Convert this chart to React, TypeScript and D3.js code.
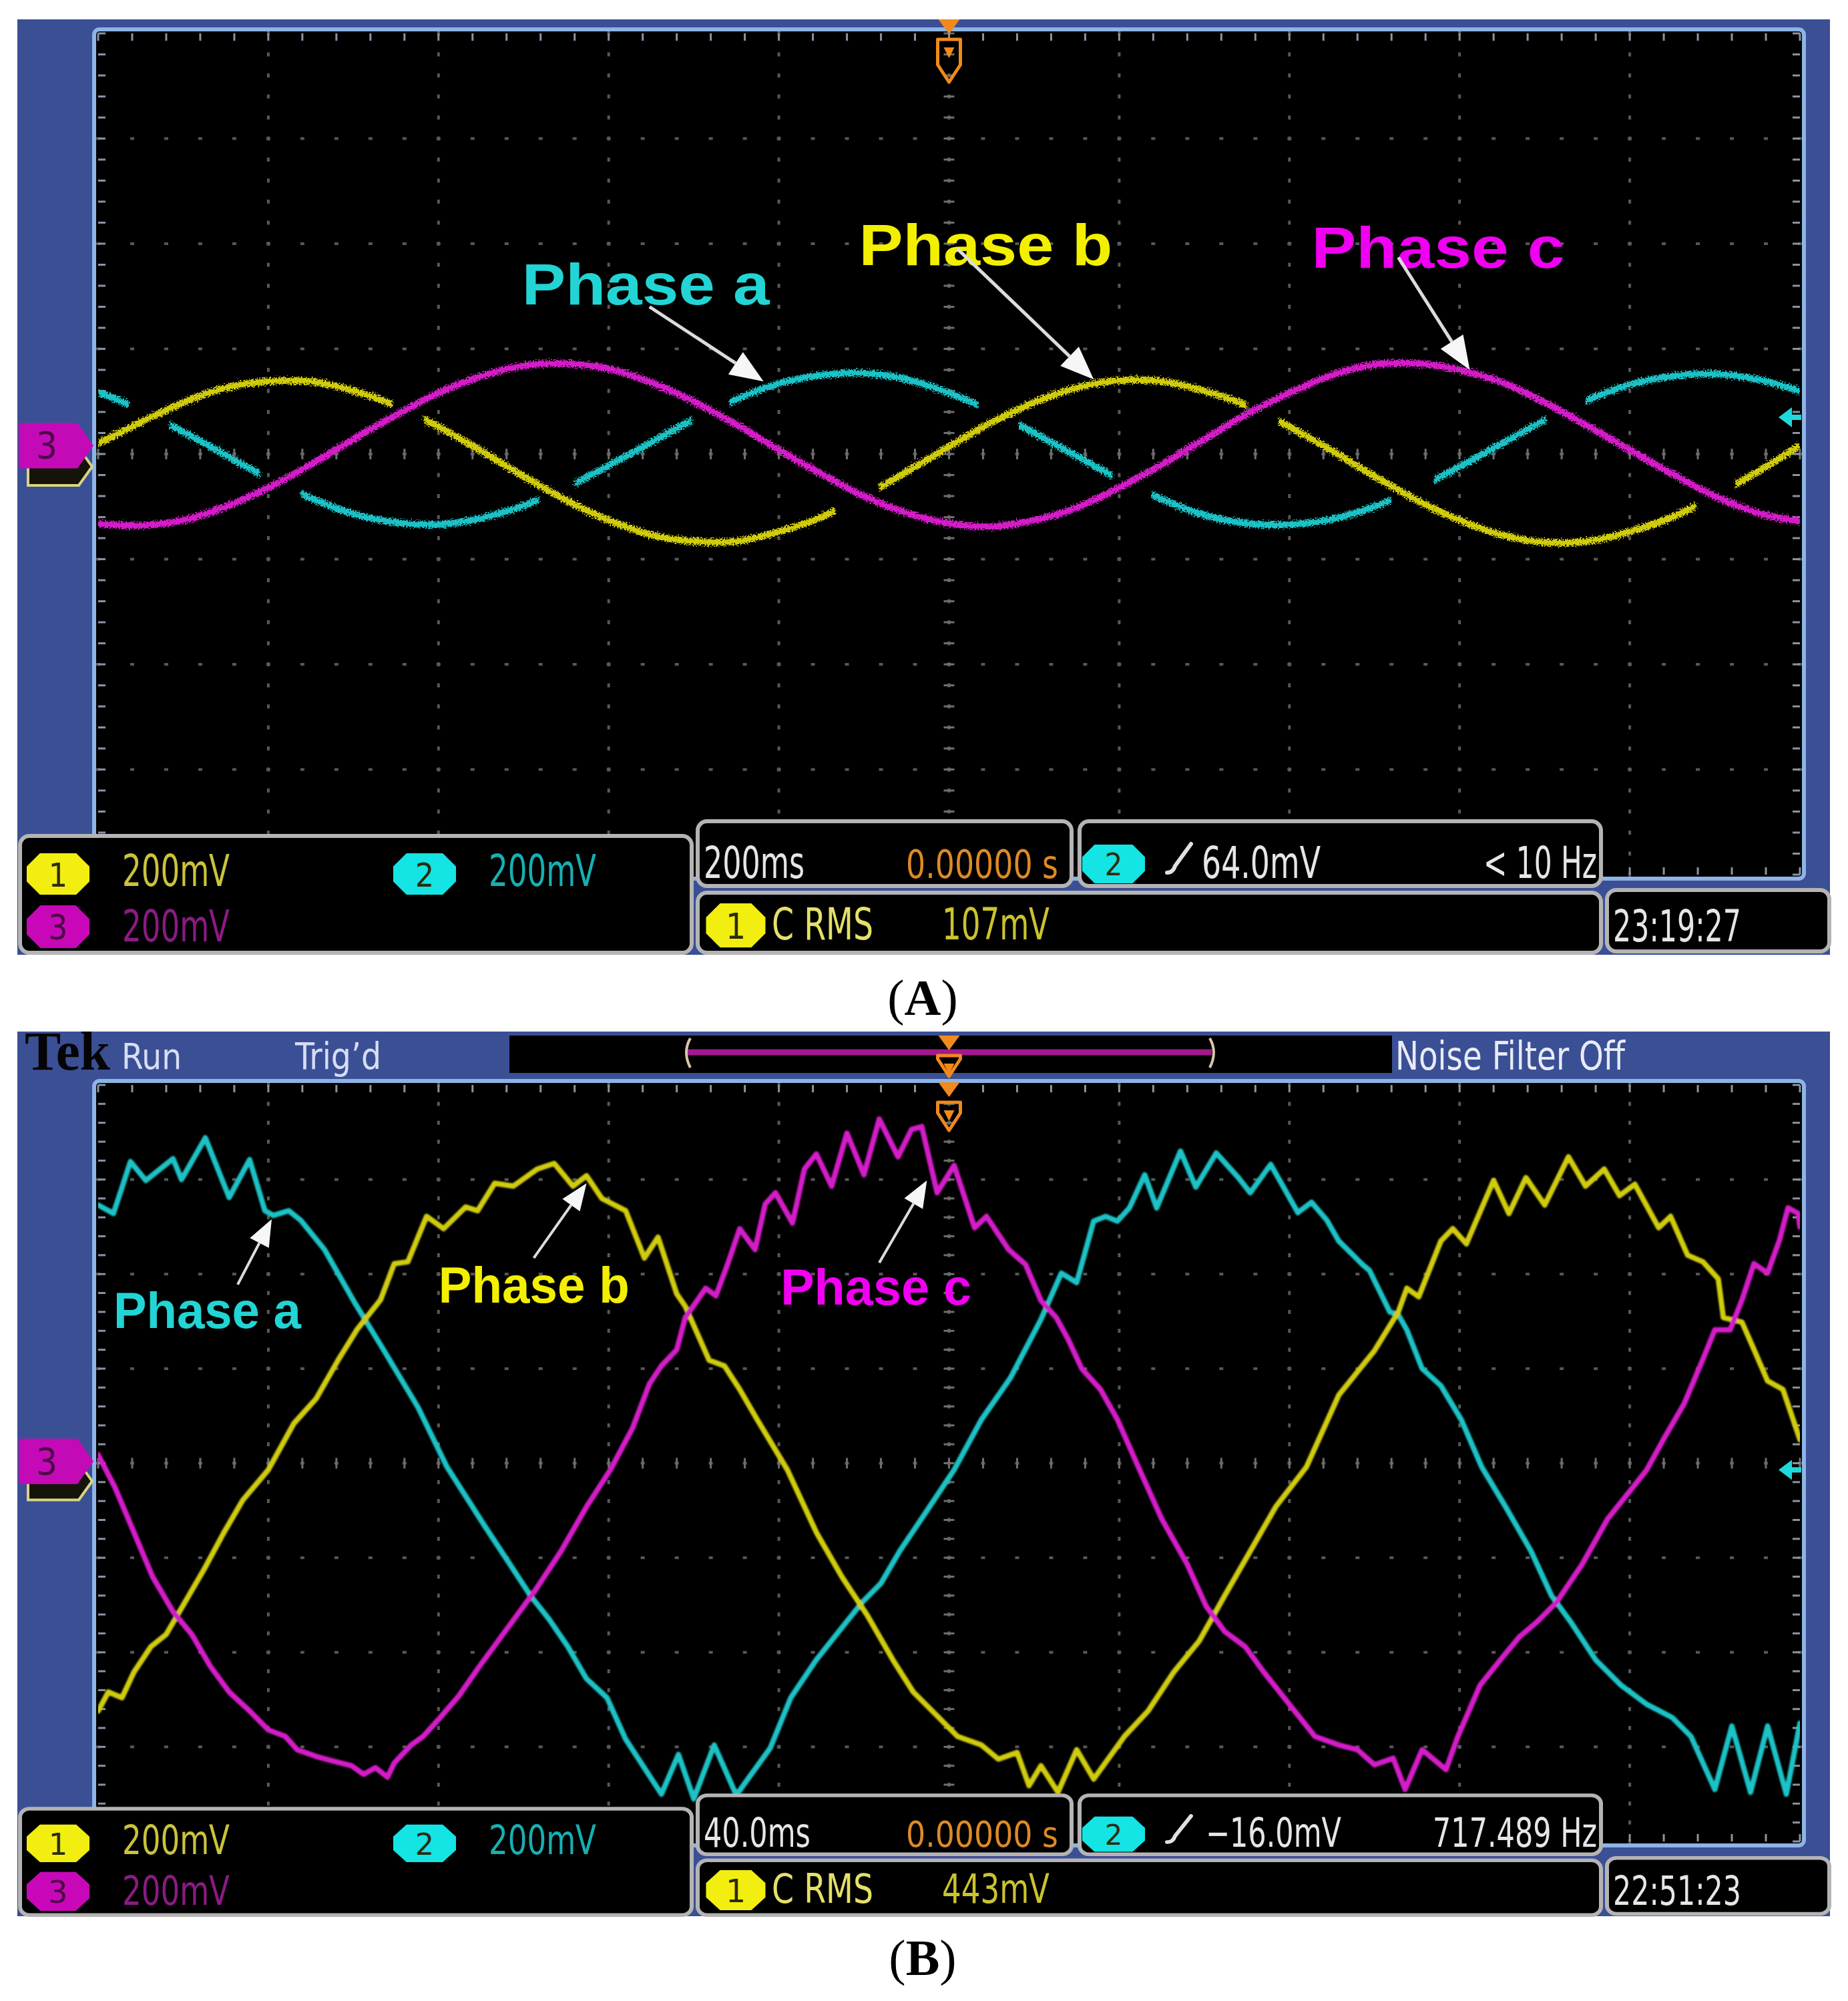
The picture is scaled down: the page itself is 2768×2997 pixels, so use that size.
import React from "react";
import * as d3 from "d3";

// ---------- data (screen divisions: x 0..10, y -4..4) ----------

// (A) 200 ms/div, one reading every 0.25 div
const stepA = 0.25;
const phaseAa = [0.59, 0.42, 0.21, -0.01, -0.23, -0.42, -0.57, -0.65, -0.67, -0.61, -0.49, -0.32, -0.11, 0.11, 0.33, 0.52, 0.67, 0.75, 0.77, 0.71,
  0.58, 0.41, 0.2, -0.02, -0.24, -0.43, -0.58, -0.66, -0.67, -0.62, -0.5, -0.33, -0.12, 0.1, 0.32, 0.51, 0.66, 0.74, 0.76, 0.71, 0.6];
const phaseAb = [0.1, 0.3, 0.49, 0.63, 0.69, 0.69, 0.6, 0.46, 0.26, 0.03, -0.21, -0.44, -0.63, -0.77, -0.83, -0.83, -0.74, -0.6, -0.4, -0.17,
  0.07, 0.3, 0.49, 0.63, 0.7, 0.69, 0.6, 0.46, 0.26, 0.03, -0.21, -0.44, -0.63, -0.77, -0.84, -0.83, -0.74, -0.6, -0.4, -0.17, 0.08];
const phaseAc = [-0.66, -0.68, -0.63, -0.5, -0.32, -0.1, 0.14, 0.37, 0.58, 0.74, 0.84, 0.86, 0.81, 0.68, 0.5, 0.28, 0.04, -0.19, -0.4, -0.56,
  -0.66, -0.69, -0.63, -0.51, -0.32, -0.1, 0.14, 0.38, 0.58, 0.75, 0.85, 0.86, 0.8, 0.68, 0.49, 0.27, 0.04, -0.19, -0.4, -0.56, -0.64];
// the scope left gaps in ch1 / ch2: visible pieces (div)
const piecesAa = [[0, 0.18], [0.42, 0.95], [1.19, 2.59], [2.8, 3.49], [3.71, 5.17], [5.41, 5.96], [6.19, 7.6], [7.85, 8.51], [8.74, 10]];
const piecesAb = [[0, 1.73], [1.91, 4.33], [4.59, 6.75], [6.94, 9.39], [9.62, 10]];

// (B) 40 ms/div, [time div, volt div]
const phaseBa = [[0, 2.73], [0.09, 2.64], [0.19, 3.19], [0.28, 2.99], [0.44, 3.22], [0.49, 3.0], [0.63, 3.44], [0.77, 2.81], [0.89, 3.21], [0.98, 2.67],
  [1.03, 2.62], [1.12, 2.67], [1.19, 2.57], [1.33, 2.26], [1.51, 1.69], [1.66, 1.25], [1.88, 0.59], [2.05, -0.04], [2.27, -0.66], [2.42, -1.07],
  [2.54, -1.4], [2.65, -1.65], [2.76, -1.94], [2.87, -2.28], [2.99, -2.48], [3.1, -2.92], [3.31, -3.5], [3.41, -3.08], [3.5, -3.55], [3.62, -2.98],
  [3.75, -3.51], [3.95, -3.01], [4.07, -2.48], [4.22, -2.08], [4.37, -1.74], [4.49, -1.47], [4.6, -1.27], [4.71, -0.93], [4.86, -0.53], [5.03, -0.07],
  [5.19, 0.46], [5.36, 0.9], [5.54, 1.52], [5.66, 2.01], [5.75, 1.91], [5.85, 2.56], [5.92, 2.61], [5.99, 2.56], [6.06, 2.7], [6.15, 3.05],
  [6.22, 2.7], [6.36, 3.3], [6.45, 2.92], [6.57, 3.28], [6.7, 3.02], [6.77, 2.86], [6.89, 3.16], [7.05, 2.65], [7.13, 2.76], [7.22, 2.57],
  [7.29, 2.35], [7.43, 2.1], [7.47, 2.04], [7.59, 1.6], [7.64, 1.57], [7.69, 1.41], [7.78, 1.0], [7.89, 0.82], [8.01, 0.46], [8.13, -0.04],
  [8.27, -0.46], [8.42, -0.93], [8.54, -1.4], [8.65, -1.67], [8.8, -2.08], [8.95, -2.35], [9.1, -2.55], [9.25, -2.69], [9.36, -2.89], [9.5, -3.45],
  [9.6, -2.78], [9.71, -3.48], [9.81, -2.78], [9.92, -3.5], [10, -2.75]];
const phaseBb = [[0, -2.62], [0.06, -2.42], [0.14, -2.48], [0.21, -2.21], [0.31, -1.94], [0.4, -1.81], [0.51, -1.47], [0.62, -1.13], [0.74, -0.73], [0.85, -0.39],
  [1.0, -0.07], [1.15, 0.42], [1.28, 0.68], [1.41, 1.09], [1.52, 1.41], [1.66, 1.73], [1.74, 2.11], [1.82, 2.13], [1.93, 2.61], [2.03, 2.48],
  [2.16, 2.71], [2.23, 2.67], [2.33, 2.96], [2.44, 2.93], [2.58, 3.11], [2.68, 3.17], [2.79, 2.93], [2.87, 3.04], [2.96, 2.8], [3.1, 2.67],
  [3.21, 2.17], [3.29, 2.39], [3.4, 1.79], [3.45, 1.66], [3.59, 1.09], [3.68, 1.03], [3.77, 0.78], [3.87, 0.47], [4.05, -0.07], [4.22, -0.73],
  [4.37, -1.2], [4.52, -1.61], [4.67, -2.08], [4.79, -2.42], [4.94, -2.69], [5.05, -2.89], [5.19, -2.98], [5.29, -3.13], [5.4, -3.06], [5.47, -3.41],
  [5.54, -3.2], [5.64, -3.48], [5.75, -3.03], [5.85, -3.34], [6.03, -2.89], [6.17, -2.62], [6.32, -2.21], [6.47, -1.88], [6.62, -1.4], [6.77, -0.93],
  [6.92, -0.46], [7.1, -0.04], [7.29, 0.72], [7.5, 1.19], [7.64, 1.6], [7.69, 1.85], [7.76, 1.76], [7.89, 2.35], [7.96, 2.48], [8.04, 2.32],
  [8.2, 2.99], [8.29, 2.64], [8.39, 3.02], [8.5, 2.73], [8.64, 3.24], [8.74, 2.93], [8.85, 3.11], [8.94, 2.83], [9.03, 2.95], [9.17, 2.49],
  [9.24, 2.61], [9.34, 2.2], [9.43, 2.13], [9.52, 1.95], [9.55, 1.54], [9.66, 1.49], [9.74, 1.16], [9.81, 0.87], [9.9, 0.78], [10, 0.25]];
const phaseBc = [[0, 0.09], [0.1, -0.26], [0.21, -0.73], [0.32, -1.2], [0.44, -1.57], [0.55, -1.81], [0.66, -2.15], [0.77, -2.42], [0.89, -2.62], [1.0, -2.82],
  [1.1, -2.89], [1.17, -3.03], [1.28, -3.1], [1.38, -3.15], [1.49, -3.2], [1.56, -3.29], [1.63, -3.22], [1.7, -3.32], [1.74, -3.17], [1.84, -2.98],
  [1.91, -2.89], [2.01, -2.69], [2.12, -2.46], [2.24, -2.15], [2.35, -1.88], [2.46, -1.61], [2.57, -1.34], [2.72, -0.93], [2.87, -0.46], [3.01, -0.07],
  [3.14, 0.37], [3.24, 0.84], [3.31, 1.03], [3.4, 1.2], [3.45, 1.54], [3.52, 1.72], [3.57, 1.85], [3.63, 1.77], [3.7, 2.11], [3.77, 2.48],
  [3.86, 2.26], [3.92, 2.74], [3.98, 2.86], [4.08, 2.54], [4.15, 3.11], [4.22, 3.27], [4.31, 2.93], [4.4, 3.49], [4.5, 3.05], [4.59, 3.64],
  [4.7, 3.24], [4.78, 3.53], [4.84, 3.56], [4.93, 2.86], [5.03, 3.15], [5.15, 2.49], [5.22, 2.61], [5.35, 2.26], [5.45, 2.1], [5.54, 1.72],
  [5.63, 1.54], [5.7, 1.31], [5.78, 1.0], [5.89, 0.78], [5.99, 0.46], [6.12, -0.07], [6.25, -0.59], [6.4, -1.07], [6.51, -1.51], [6.62, -1.78],
  [6.74, -1.94], [6.85, -2.21], [7.0, -2.55], [7.15, -2.89], [7.29, -2.98], [7.4, -3.03], [7.5, -3.19], [7.61, -3.12], [7.68, -3.45], [7.78, -3.03],
  [7.92, -3.24], [7.99, -2.89], [8.12, -2.35], [8.24, -2.08], [8.35, -1.84], [8.46, -1.67], [8.57, -1.47], [8.72, -1.07], [8.87, -0.59], [9.1, -0.07],
  [9.21, 0.29], [9.32, 0.63], [9.43, 1.1], [9.5, 1.41], [9.59, 1.41], [9.66, 1.73], [9.73, 2.11], [9.81, 2.01], [9.88, 2.36], [9.93, 2.7],
  [9.99, 2.64], [10, 2.5]];

// channel ground markers [ch1, ch2, ch3] (div)
const groundA = [-0.12, 0.35, 0.08];
const groundB = [-0.19, -0.07, 0.02];

// annotation anchors (div): label [x, baseline], arrow [x1, y1, x2, y2]
const phaseNames = ["Phase a", "Phase b", "Phase c"];
const labelsA = [[2.49, 1.42], [4.47, 1.8], [7.13, 1.77]];
const arrowsA = [[3.24, 1.4, 3.91, 0.69], [5.05, 1.95, 5.85, 0.71], [7.64, 1.87, 8.06, 0.8]];
const labelsB = [[0.09, 1.43], [2.0, 1.7], [4.01, 1.68]];
const arrowsB = [[0.82, 1.89, 1.02, 2.58], [2.56, 2.17, 2.87, 2.96], [4.59, 2.12, 4.87, 2.99]];

// readouts
const chanScale = ["200mV", "200mV", "200mV"];
const timebase = ["200ms", "40.0ms"];
const trigPos = ["0.00000 s", "0.00000 s"];
const trigLevel = ["64.0mV", "\u221216.0mV"];
const trigFreq = ["< 10 Hz", "717.489 Hz"];
const rmsValue = ["107mV", "443mV"];
const clock = ["23:19:27", "22:51:23"];
const captions = ["A", "B"];

// ---------- style ----------
const W = 2768;
const H = 2997;
const X0 = 147;
const X1 = 2696;
const BLUE = "#3b4f95";
const RIM = "#8db4e4";
const TRACE = ["#d0cc0c", "#1cc2c5", "#d41fc8"];
const BADGE = ["#f2ee10", "#14e4e4", "#c808b8"];
const LABEL = ["#22d4d4", "#f2f000", "#f000f0"];
const NARROW = '"Liberation Sans Narrow","DejaVu Sans Condensed","Arial Narrow",sans-serif';
const SANS = '"Liberation Sans",Arial,sans-serif';
const SERIF = '"Liberation Serif","Times New Roman",serif';

function Txt({ x, y, w, fill = "#e6e6e6", size = 66, anchor = "start", font = NARROW, weight = "normal", children }: any) {
  return (
    <text x={x} y={y} fill={fill} fontSize={size} fontFamily={font} fontWeight={weight}
      textAnchor={anchor} textLength={w} lengthAdjust="spacingAndGlyphs">{children}</text>
  );
}

function octagon(cx: number, cy: number, w: number, h: number) {
  const c = h * 0.32;
  const l = cx - w / 2, r = cx + w / 2, t = cy - h / 2, b = cy + h / 2;
  return `M${l + c},${t}L${r - c},${t}L${r},${t + c}L${r},${b - c}L${r - c},${b}L${l + c},${b}L${l},${b - c}L${l},${t + c}Z`;
}

function Badge({ cx, cy, w, h, ch }: any) {
  return (
    <g>
      <path d={octagon(cx, cy, w, h)} fill={BADGE[ch]} />
      <text x={cx} y={cy + h * 0.3} textAnchor="middle" fontFamily={NARROW} fontSize={h * 0.8}
        fill={ch === 2 ? "#4a0846" : "#2b2b10"}>{ch + 1}</text>
    </g>
  );
}

function Box({ x, y, w, h }: any) {
  return <rect x={x} y={y} width={w} height={h} rx={14} fill="#000" stroke="#b4b4b4" strokeWidth={6} />;
}

function Status({ k, top, sy }: any) {
  return (
    <g transform={`translate(0,${top}) scale(1,${sy})`}>
      <Box x={30} y={0} w={1006} h={175} />
      <Box x={1045} y={-22} w={560} h={97} />
      <Box x={1617} y={-22} w={781} h={97} />
      <Box x={1045} y={85} w={1353} h={90} />
      <Box x={2407} y={81} w={333} h={92} />

      <Badge cx={87} cy={57} w={94} h={62} ch={0} />
      <Txt x={183} y={75} w={161} fill="#cbc33a">{chanScale[0]}</Txt>
      <Badge cx={636} cy={57} w={94} h={62} ch={1} />
      <Txt x={732} y={75} w={161} fill="#16b0b2">{chanScale[1]}</Txt>
      <Badge cx={87} cy={136} w={94} h={64} ch={2} />
      <Txt x={183} y={158} w={161} fill="#8c1a84">{chanScale[2]}</Txt>

      <Txt x={1054} y={63} w={k ? 160 : 151}>{timebase[k]}</Txt>
      <Txt x={1357} y={63} w={228} fill="#de8a26" size={58}>{trigPos[k]}</Txt>
      <Badge cx={1668} cy={42} w={94} h={58} ch={1} />
      <path d="M1748,55 q9,0 12,-10 L1784,12" fill="none" stroke="#e0e0e0" strokeWidth={6} strokeLinecap="round" />
      <Txt x={k ? 1806 : 1800} y={63} w={k ? 203 : 178}>{trigLevel[k]}</Txt>
      <Txt x={2392} y={63} w={k ? 246 : 170} anchor="end">{trigFreq[k]}</Txt>

      <Badge cx={1102} cy={134} w={89} h={66} ch={0} />
      <Txt x={1156} y={155} w={152} fill="#e4e06a">C RMS</Txt>
      <Txt x={1411} y={155} w={161} fill="#cbc32e">{rmsValue[k]}</Txt>
      <Txt x={2416} y={158} w={192}>{clock[k]}</Txt>
    </g>
  );
}

function TrigMark({ cx, y0, h }: any) {
  const c = "#f08a1c";
  return (
    <g>
      <polygon points={`${cx - 16},${y0} ${cx + 16},${y0} ${cx},${y0 + 22}`} fill={c} />
      <path d={`M${cx - 17},${y0 + 30}L${cx + 17},${y0 + 30}L${cx + 17},${y0 + h - 26}L${cx},${y0 + h}L${cx - 17},${y0 + h - 26}Z`}
        fill="none" stroke={c} strokeWidth={5} strokeLinejoin="round" />
      <path d={`M${cx - 8},${y0 + 42}L${cx + 8},${y0 + 42}L${cx},${y0 + 58}Z`} fill={c} />
    </g>
  );
}

function Arrow({ a, x, y, len, half, sw }: any) {
  const x1 = x(a[0]), y1 = y(a[1]), x2 = x(a[2]), y2 = y(a[3]);
  const L = Math.hypot(x2 - x1, y2 - y1);
  const ux = (x2 - x1) / L, uy = (y2 - y1) / L;
  const bx = x2 - ux * len, by = y2 - uy * len;
  return (
    <g>
      <line x1={x1} y1={y1} x2={bx} y2={by} stroke="#dcdcdc" strokeWidth={sw} />
      <polygon points={`${x2},${y2} ${bx - uy * half},${by + ux * half} ${bx + uy * half},${by - ux * half}`} fill="#f6f6f6" />
    </g>
  );
}

function Graticule({ x, y }: any) {
  const mx = d3.range(0, 51).map((i) => i / 5);
  const my = d3.range(0, 41).map((i) => -4 + i / 5);
  const els: any[] = [];
  d3.range(1, 10).forEach((i) => {
    my.forEach((v, j) => els.push(<rect key={`v${i}-${j}`} x={x(i) - 2} y={y(v) - 3} width={4} height={6} fill="#585858" />));
  });
  d3.range(-3, 4).forEach((v) => {
    mx.forEach((u, j) => els.push(<rect key={`h${v}-${j}`} x={x(u) - 3} y={y(v) - 2} width={6} height={4} fill="#585858" />));
  });
  my.forEach((v, j) => els.push(<line key={`cx${j}`} x1={x(5) - 8} x2={x(5) + 8} y1={y(v)} y2={y(v)} stroke="#6e6e6e" strokeWidth={3} />));
  mx.forEach((u, j) => els.push(<line key={`cy${j}`} x1={x(u)} x2={x(u)} y1={y(0) - 8} y2={y(0) + 8} stroke="#6e6e6e" strokeWidth={3} />));
  mx.forEach((u, j) => {
    els.push(<line key={`et${j}`} x1={x(u)} x2={x(u)} y1={y(4)} y2={y(4) + 11} stroke="#8a93a6" strokeWidth={3} />);
    els.push(<line key={`eb${j}`} x1={x(u)} x2={x(u)} y1={y(-4)} y2={y(-4) - 11} stroke="#8a93a6" strokeWidth={3} />);
  });
  my.forEach((v, j) => {
    els.push(<line key={`el${j}`} x1={x(0)} x2={x(0) + 11} y1={y(v)} y2={y(v)} stroke="#8a93a6" strokeWidth={3} />);
    els.push(<line key={`er${j}`} x1={x(10)} x2={x(10) - 11} y1={y(v)} y2={y(v)} stroke="#8a93a6" strokeWidth={3} />);
  });
  return <g>{els}</g>;
}

function Panel(p: any) {
  const { k, top, bottom, gridTop, gridBottom, statusTop, sy, header, traces, ground, labels, arrows, fuzzy, captionY, width, labelSize, labelW } = p;
  const id = `p${k}`;
  const x = d3.scaleLinear().domain([0, 10]).range([X0, X1]);
  const y = d3.scaleLinear().domain([-4, 4]).range([gridBottom, gridTop]);
  const line = d3.line<any>().x((d) => x(d[0])).y((d) => y(d[1])).curve(fuzzy ? d3.curveCatmullRom : d3.curveLinear);

  const g3 = y(ground[2]);
  const g1 = y(ground[0]);
  const g2 = y(ground[1]);

  return (
    <g>
      <defs>
        <clipPath id={`${id}-grid`}>
          <rect x={X0} y={gridTop} width={X1 - X0} height={gridBottom - gridTop} />
        </clipPath>
        {traces.map((t: any, j: number) =>
          (t.pieces || []).map((s: number[], m: number) => (
            <clipPath key={`${j}-${m}`} id={`${id}-c${j}-${m}`}>
              <rect x={x(s[0])} y={gridTop} width={x(s[1]) - x(s[0])} height={gridBottom - gridTop} />
            </clipPath>
          ))
        )}
      </defs>

      <rect x={26} y={top} width={2715} height={bottom - top} fill={BLUE} />
      <rect x={X0 - 6} y={gridTop - 6} width={X1 - X0 + 12} height={gridBottom - gridTop + 12} rx={8} fill="#000" stroke={RIM} strokeWidth={6} />

      {header && (
        <g>
          <Txt x={37} y={top + 57} w={128} fill="#050505" size={82} font={SERIF} weight="bold">Tek</Txt>
          <Txt x={182} y={top + 56} w={90} fill="#d6ddf5" size={54}>Run</Txt>
          <Txt x={442} y={top + 56} w={129} fill="#d6ddf5" size={56}>{"Trig\u2019d"}</Txt>
          <rect x={763} y={top + 6} width={1322} height={56} fill="#000" />
          <line x1={1030} x2={1815} y1={top + 31} y2={top + 31} stroke="#a2188e" strokeWidth={9} />
          <path d={`M1034,${top + 10} q-12,21 0,44`} fill="none" stroke="#d8c6ae" strokeWidth={4} />
          <path d={`M1812,${top + 10} q12,21 0,44`} fill="none" stroke="#d8c6ae" strokeWidth={4} />
          <Txt x={2090} y={top + 57} w={344} fill="#e8ebf7" size={58}>Noise Filter Off</Txt>
        </g>
      )}

      <Graticule x={x} y={y} />

      <g clipPath={`url(#${id}-grid)`}>
        <g filter={fuzzy ? "url(#fuzz)" : "url(#soft)"}>
          {traces.map((t: any, j: number) =>
            t.pieces ? (
              t.pieces.map((s: number[], m: number) => (
                <path key={`${j}-${m}`} d={line(t.values) || ""} clipPath={`url(#${id}-c${j}-${m})`} fill="none"
                  stroke={TRACE[t.ch]} strokeWidth={width} strokeLinejoin="round" strokeLinecap="round" />
              ))
            ) : (
              <path key={j} d={line(t.values) || ""} fill="none" stroke={TRACE[t.ch]} strokeWidth={width}
                strokeLinejoin="round" strokeLinecap="round" />
            )
          )}
        </g>
      </g>

      {labels.map((l: number[], j: number) => (
        <Txt key={`l${j}`} x={x(l[0])} y={y(l[1])} w={labelW[j]} fill={LABEL[j]} size={labelSize} font={SANS} weight="bold">
          {phaseNames[j]}
        </Txt>
      ))}
      {arrows.map((a: number[], j: number) => (
        <Arrow key={`a${j}`} a={a} x={x} y={y} len={fuzzy ? 50 : 40} half={fuzzy ? 20 : 16} sw={fuzzy ? 5 : 4} />
      ))}

      {/* channel ground markers */}
      <path d={`M42,${g1 - 28}L118,${g1 - 28}L138,${g1}L118,${g1 + 28}L42,${g1 + 28}Z`} fill="#14140a" stroke="#d9d480" strokeWidth={4} />
      <path d={`M28,${g3 - 34}L116,${g3 - 34}L140,${g3}L116,${g3 + 34}L28,${g3 + 34}Z`} fill="#c40ab6" />
      <text x={70} y={g3 + 19} textAnchor="middle" fontFamily={NARROW} fontSize={56} fill="#4c0848">3</text>
      <path d={`M2664,${g2}L2684,${g2 - 15}L2684,${g2 - 4}L2698,${g2 - 4}L2698,${g2 + 4}L2684,${g2 + 4}L2684,${g2 + 15}Z`} fill="#20d8dc" />

      {header ? (
        <g>
          <TrigMark cx={x(5)} y0={top + 6} h={61} />
          <TrigMark cx={x(5)} y0={gridTop - 4} h={72} />
        </g>
      ) : (
        <TrigMark cx={x(5)} y0={top} h={94} />
      )}

      <Status k={k} top={statusTop} sy={sy} />

      <text x={1382} y={captionY} textAnchor="middle" fontFamily={SERIF} fontSize={76} fill="#000">
        (<tspan fontWeight="bold">{captions[k]}</tspan>)
      </text>
    </g>
  );
}

export default function App() {
  const tracesA = [
    { ch: 0, values: phaseAb.map((v, i) => [i * stepA, v]), pieces: piecesAb },
    { ch: 1, values: phaseAa.map((v, i) => [i * stepA, v]), pieces: piecesAa },
    { ch: 2, values: phaseAc.map((v, i) => [i * stepA, v]) },
  ];
  const tracesB = [
    { ch: 1, values: phaseBa },
    { ch: 0, values: phaseBb },
    { ch: 2, values: phaseBc },
  ];
  return (
    <svg width={W} height={H} viewBox={`0 0 ${W} ${H}`} style={{ position: "absolute", left: 0, top: 0, background: "#fff" }}>
      <defs>
        <filter id="fuzz" x="-2%" y="-10%" width="104%" height="120%">
          <feTurbulence type="fractalNoise" baseFrequency="0.45" numOctaves={2} seed={4} result="n" />
          <feDisplacementMap in="SourceGraphic" in2="n" scale={13} xChannelSelector="R" yChannelSelector="G" />
        </filter>
        <filter id="soft" x="-2%" y="-5%" width="104%" height="110%">
          <feGaussianBlur stdDeviation={1.3} />
        </filter>
      </defs>
      <rect width={W} height={H} fill="#fff" />
      <Panel k={0} top={29} bottom={1430} gridTop={50} gridBottom={1310} statusTop={1252} sy={1}
        header={false} traces={tracesA} ground={groundA} labels={labelsA} arrows={arrowsA} fuzzy={true}
        width={10} labelSize={88} labelW={[371, 380, 379]} captionY={1520} />
      <Panel k={1} top={1545} bottom={2870} gridTop={1625} gridBottom={2758} statusTop={2709} sy={0.91}
        header={true} traces={tracesB} ground={groundB} labels={labelsB} arrows={arrowsB} fuzzy={false}
        width={8} labelSize={76} labelW={[281, 286, 286]} captionY={2958} />
    </svg>
  );
}
